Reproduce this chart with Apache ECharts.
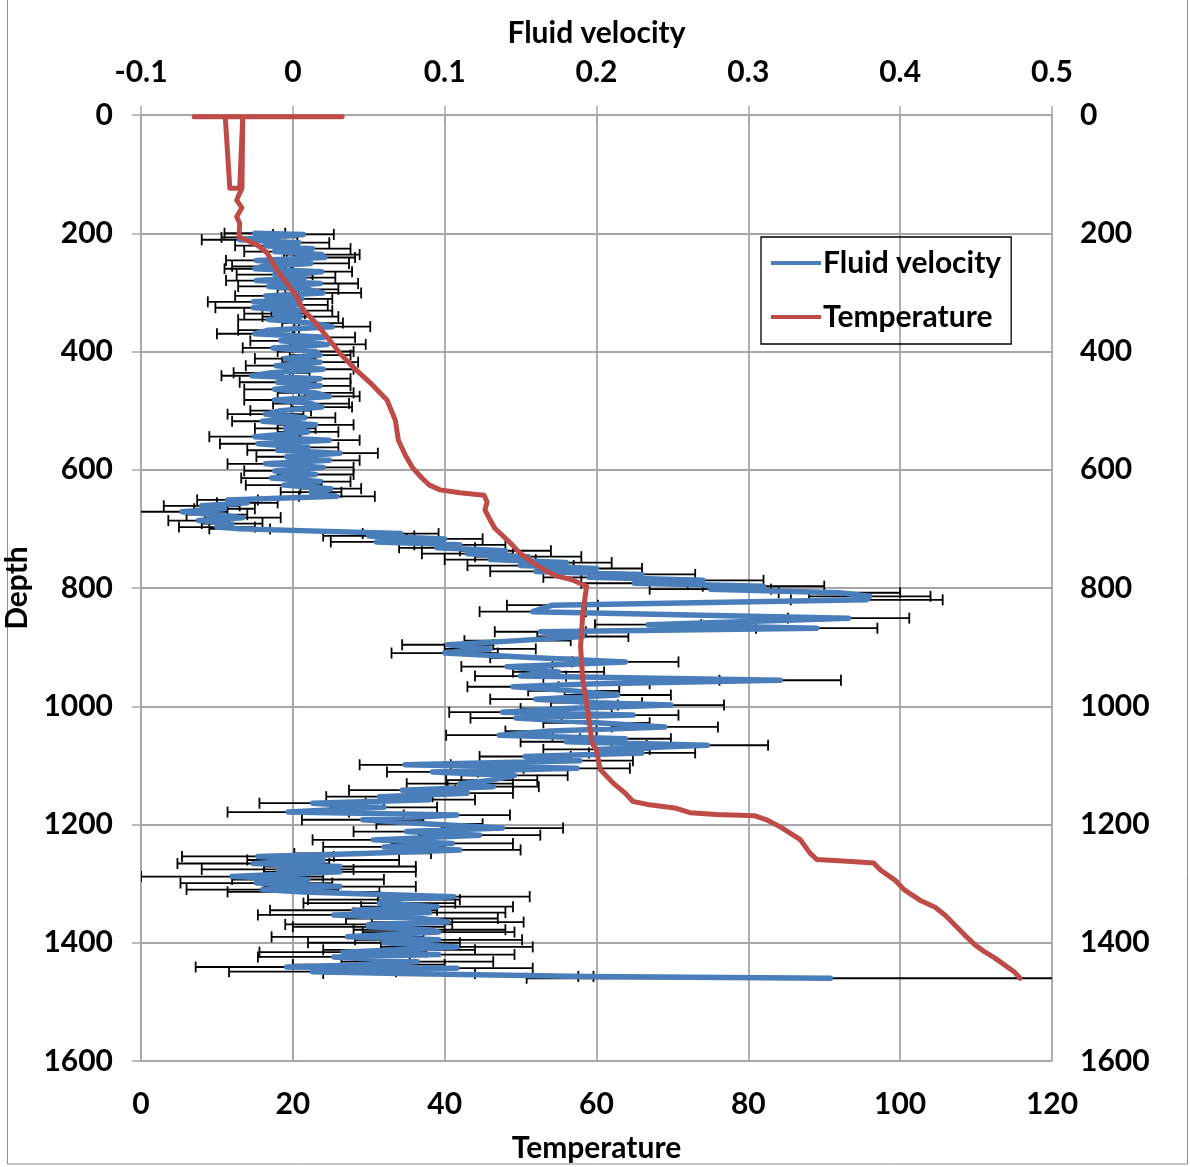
<!DOCTYPE html>
<html>
<head>
<meta charset="utf-8">
<script src="https://cdn.jsdelivr.net/npm/echarts@6/dist/echarts.min.js"></script>
<style>
html,body{margin:0;padding:0;background:#fff;}
#chart{width:1190px;height:1167px;}
</style>
</head>
<body>
<div id="chart"></div>
<script>
// ---- Fluid velocity (top axis) vs depth, with horizontal error bars ----
const depthV = [200,202,207,211,216,221,226,231,236,241,246,251,256,260,265,270,275,280,285,290,295,301,306,311,316,321,326,331,336,341,346,352,358,364,370,376,382,388,394,400,406,412,418,424,430,436,441,446,452,458,464,470,476,482,488,494,500,506,512,518,524,530,536,544,550,556,562,567,572,578,584,590,596,602,608,614,620,626,632,638,645,651,656,661,666,671,676,681,686,691,697,700,708,712,717,722,727,732,737,742,747,752,757,762,767,772,777,782,787,792,797,802,808,814,820,829,840,851,862,868,874,882,889,896,903,910,918,925,933,942,949,956,962,967,974,981,988,994,998,1004,1010,1015,1020,1028,1035,1042,1049,1055,1060,1066,1073,1079,1085,1092,1099,1105,1111,1117,1125,1131,1136,1142,1147,1153,1158,1164,1171,1179,1184,1192,1199,1206,1212,1218,1226,1232,1238,1243,1249,1254,1260,1266,1271,1276,1280,1288,1293,1299,1305,1310,1314,1322,1327,1333,1339,1345,1349,1353,1359,1365,1369,1373,1378,1382,1390,1395,1400,1407,1412,1416,1420,1424,1432,1437,1441,1443,1449,1452,1457,1460];
const velocity = [-0.025,0.007,-0.022,-0.035,0.004,-0.018,0.013,-0.012,0.019,0.021,-0.024,0.012,-0.020,-0.025,0.019,-0.012,0.008,-0.024,0.018,-0.016,0.010,0.020,-0.018,0.006,-0.026,0.003,-0.026,0.006,-0.012,0.005,-0.016,0.013,0.026,-0.016,-0.025,0.021,-0.008,0.023,-0.013,0.015,0.018,-0.005,0.018,-0.011,0.020,-0.014,-0.027,0.018,-0.010,0.018,-0.012,0.015,0.024,-0.012,0.012,0.019,-0.008,-0.018,0.008,-0.020,0.015,-0.005,0.010,-0.025,0.024,-0.023,0.010,-0.010,0.031,-0.004,0.024,-0.018,0.020,-0.012,0.015,-0.014,0.018,-0.006,0.025,0.012,0.029,-0.043,-0.030,-0.060,-0.045,-0.073,-0.050,-0.033,-0.062,-0.040,-0.050,-0.035,0.071,0.050,0.100,0.055,0.110,0.095,0.140,0.115,0.155,0.130,0.180,0.150,0.200,0.160,0.230,0.195,0.270,0.225,0.310,0.275,0.360,0.380,0.378,0.171,0.158,0.366,0.234,0.345,0.163,0.191,0.148,0.102,0.130,0.100,0.160,0.219,0.141,0.175,0.150,0.321,0.200,0.145,0.185,0.214,0.160,0.200,0.249,0.180,0.138,0.224,0.147,0.200,0.245,0.170,0.136,0.219,0.180,0.273,0.200,0.230,0.153,0.189,0.074,0.187,0.092,0.146,0.131,0.110,0.132,0.072,0.115,0.057,0.090,0.013,0.060,-0.003,0.108,0.046,0.090,0.138,0.075,0.123,0.053,0.105,0.060,0.110,0.046,-0.023,0.020,-0.026,0.031,-0.010,0.031,-0.040,0.010,-0.024,0.031,-0.020,0.007,0.106,0.060,0.057,0.095,0.040,0.090,0.027,0.085,0.102,0.050,0.050,0.090,0.096,0.036,0.096,0.060,0.108,0.070,0.033,0.096,0.027,0.082,0.050,-0.004,0.108,0.013,0.070,0.193,0.354];
const velErr = [0.020,0.020,0.025,0.025,0.020,0.020,0.025,0.020,0.025,0.020,0.020,0.025,0.020,0.020,0.020,0.025,0.020,0.020,0.025,0.020,0.020,0.025,0.020,0.020,0.030,0.020,0.025,0.020,0.020,0.025,0.020,0.020,0.025,0.020,0.025,0.020,0.020,0.025,0.020,0.025,0.020,0.020,0.025,0.020,0.020,0.025,0.020,0.020,0.025,0.020,0.020,0.025,0.020,0.020,0.025,0.020,0.020,0.025,0.020,0.020,0.025,0.020,0.020,0.030,0.020,0.025,0.020,0.020,0.025,0.020,0.020,0.025,0.020,0.020,0.025,0.020,0.020,0.025,0.020,0.020,0.025,0.020,0.020,0.025,0.020,0.030,0.020,0.025,0.020,0.020,0.025,0.020,0.025,0.030,0.025,0.030,0.030,0.025,0.030,0.030,0.035,0.030,0.030,0.035,0.030,0.030,0.035,0.030,0.040,0.035,0.040,0.040,0.040,0.040,0.050,0.030,0.035,0.040,0.035,0.040,0.030,0.030,0.035,0.030,0.030,0.035,0.030,0.035,0.030,0.030,0.030,0.040,0.035,0.030,0.030,0.035,0.030,0.030,0.035,0.030,0.035,0.030,0.030,0.035,0.035,0.030,0.035,0.030,0.030,0.040,0.035,0.035,0.030,0.035,0.030,0.035,0.030,0.035,0.030,0.035,0.030,0.035,0.030,0.035,0.030,0.035,0.035,0.040,0.035,0.040,0.035,0.040,0.035,0.040,0.040,0.040,0.040,0.040,0.045,0.050,0.050,0.050,0.050,0.050,0.050,0.060,0.050,0.050,0.050,0.050,0.050,0.050,0.050,0.050,0.050,0.055,0.050,0.050,0.050,0.050,0.055,0.050,0.050,0.050,0.050,0.055,0.050,0.050,0.050,0.055,0.050,0.050,0.050,0.050,0.060,0.050,0.055,0.050,0.005,0.200];

// ---- Temperature (bottom axis) vs depth ----
const depthT = [3,3,3,124,124,3,124,132,144,157,172,183,206,220,233,262,284,307,330,347,375,403,426,453,482,516,550,575,597,614,626,634,639,643,655,668,685,699,712,727,741,756,770,780,786,792,797,842,899,955,1011,1062,1075,1107,1130,1146,1161,1166,1172,1180,1183,1185,1192,1204,1225,1248,1259,1262,1265,1277,1294,1311,1328,1340,1353,1370,1387,1404,1416,1426,1438,1450,1460];
const temperature = [26.5,7.0,11.1,11.7,13.0,13.4,13.3,13.0,12.6,13.3,12.6,13.0,12.9,15.3,16.6,17.9,19.2,20.5,21.4,22.7,24.5,26.2,27.9,30.2,32.4,33.5,33.9,34.8,35.8,37.0,38.0,39.4,42.0,45.2,45.6,45.3,46.0,46.6,47.7,48.9,49.9,51.5,53.2,54.8,56.8,57.8,58.7,58.2,57.9,58.2,58.9,59.4,60.0,60.5,62.2,63.7,64.8,66.7,70.3,72.3,75.8,80.8,82.4,84.2,86.8,88.1,89.0,93.0,96.5,97.4,99.3,100.6,102.6,104.6,105.9,107.2,108.5,109.9,111.2,112.5,113.8,115.1,115.8];

const FONT = 'Lato';
const lblStyle = {fontFamily: FONT, fontWeight: 'bold', fontSize: 30, color: '#000'};
const gridColor = '#a6a6a6';

const velData = depthV.map((d, i) => [velocity[i], d]);
const errData = depthV.map((d, i) => [velocity[i], d, velErr[i]]);
const tempData = depthT.map((d, i) => [temperature[i], d]);

const chart = echarts.init(document.getElementById('chart'), null, {renderer: 'canvas'});
const axisCommon = {
  axisLine: {show: true, lineStyle: {color: gridColor, width: 1.5}},
  axisTick: {show: true, length: 9, lineStyle: {color: gridColor, width: 1.5}},
  splitLine: {show: true, lineStyle: {color: gridColor, width: 1.8}},
  axisLabel: Object.assign({margin: 28, formatter: v => String(v)}, lblStyle),
  nameTextStyle: lblStyle
};
chart.setOption({
  animation: false,
  backgroundColor: '#fff',
  grid: {left: 141, right: 138, top: 115, bottom: 106, containLabel: false, outerBoundsMode: 'none'},
  legend: {
    data: ['Fluid velocity', 'Temperature'],
    orient: 'vertical', left: 761, top: 237,
    padding: [10, 10, 11, 10],
    borderColor: '#000', borderWidth: 1.3,
    itemWidth: 50, itemHeight: 4, itemGap: 22, icon: 'rect',
    textStyle: Object.assign({}, lblStyle, {padding: [0, 0, 0, -3], lineHeight: 32})
  },
  xAxis: [
    Object.assign({}, axisCommon, {
      type: 'value', position: 'bottom', min: 0, max: 120, interval: 20,
      name: 'Temperature', nameLocation: 'middle', nameGap: 72
    }),
    Object.assign({}, axisCommon, {
      type: 'value', position: 'top', min: -0.1, max: 0.5, interval: 0.1,
      name: 'Fluid velocity', nameLocation: 'middle', nameGap: 67,
      splitLine: {show: false},
      axisLabel: Object.assign({margin: 28, formatter: v => String(Math.round(v * 10) / 10)}, lblStyle)
    })
  ],
  yAxis: [
    Object.assign({}, axisCommon, {
      type: 'value', position: 'left', inverse: true, min: 0, max: 1600, interval: 200,
      name: 'Depth', nameLocation: 'middle', nameGap: 94, nameRotate: 90
    }),
    Object.assign({}, axisCommon, {
      type: 'value', position: 'right', inverse: true, min: 0, max: 1600, interval: 200,
      splitLine: {show: false}
    })
  ],
  series: [
    {
      name: 'errbars', type: 'custom', xAxisIndex: 1, yAxisIndex: 0, z: 1, clip: true,
      data: errData, encode: {x: 0, y: 1},
      renderItem: function (params, api) {
        const v = api.value(0), d = api.value(1), e = api.value(2);
        const a = api.coord([v - e, d]), b = api.coord([v + e, d]);
        const h = 5.5, st = {stroke: '#000', lineWidth: 1.8};
        return {type: 'group', children: [
          {type: 'line', shape: {x1: a[0], y1: a[1], x2: b[0], y2: b[1]}, style: st},
          {type: 'line', shape: {x1: a[0], y1: a[1] - h, x2: a[0], y2: a[1] + h}, style: st},
          {type: 'line', shape: {x1: b[0], y1: b[1] - h, x2: b[0], y2: b[1] + h}, style: st}
        ]};
      }
    },
    {
      name: 'Fluid velocity', type: 'line', xAxisIndex: 1, yAxisIndex: 0, z: 2,
      data: velData, showSymbol: false, symbol: 'none',
      lineStyle: {color: '#4a7ebb', width: 5.5, join: 'round', cap: 'round'},
      itemStyle: {color: '#4a7ebb'}
    },
    {
      name: 'Temperature', type: 'line', xAxisIndex: 0, yAxisIndex: 0, z: 3,
      data: tempData, showSymbol: false, symbol: 'none',
      lineStyle: {color: '#be4b48', width: 5, join: 'round', cap: 'round'},
      itemStyle: {color: '#be4b48'}
    }
  ],
  graphic: [{
    type: 'rect', shape: {x: 7.5, y: -2, width: 1180, height: 1166}, silent: true,
    style: {fill: 'none', stroke: '#8c8c8c', lineWidth: 1}
  }]
});
</script>
</body>
</html>
